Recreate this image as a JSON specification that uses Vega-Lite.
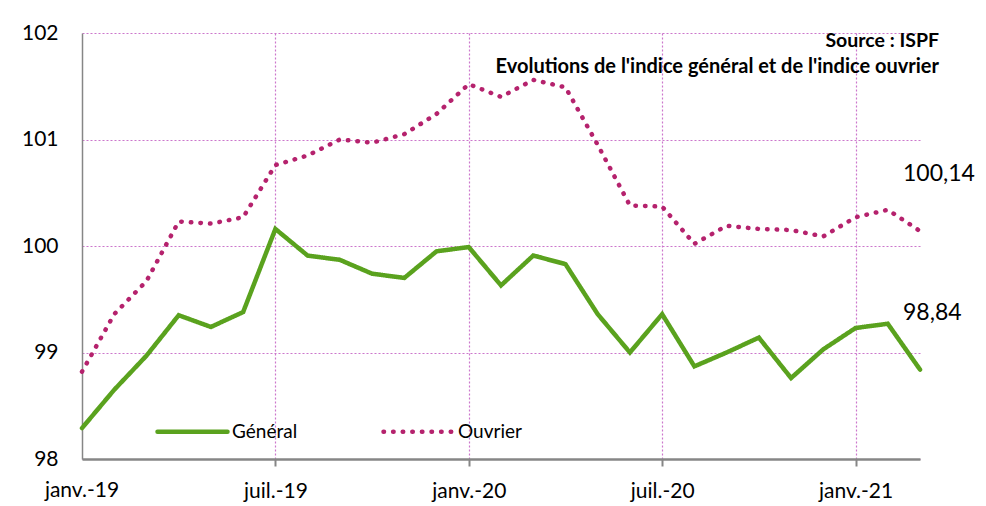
{
  "$schema": "https://vega.github.io/schema/vega-lite/v6.json",
  "width": 838,
  "height": 426,
  "autosize": {"type": "none"},
  "padding": {"left": 82, "top": 33, "right": 66, "bottom": 47},
  "title": {
    "text": "Source : ISPF",
    "subtitle": "Evolutions de l'indice général et de l'indice ouvrier",
    "anchor": "end",
    "frame": "group",
    "orient": "top",
    "dx": 19,
    "offset": -56,
    "font": "Lato",
    "fontSize": 19.5,
    "fontWeight": "bold",
    "color": "#000000",
    "subtitleFont": "Lato",
    "subtitleFontSize": 20,
    "subtitleFontWeight": "bold",
    "subtitleColor": "#000000",
    "subtitlePadding": 6
  },
  "data": {
    "values": [
      {"mois": "janv.-19", "serie": "Général", "valeur": 98.29},
      {"mois": "févr.-19", "serie": "Général", "valeur": 98.65},
      {"mois": "mars-19", "serie": "Général", "valeur": 98.97},
      {"mois": "avr.-19", "serie": "Général", "valeur": 99.35},
      {"mois": "mai-19", "serie": "Général", "valeur": 99.24},
      {"mois": "juin-19", "serie": "Général", "valeur": 99.38},
      {"mois": "juil.-19", "serie": "Général", "valeur": 100.16},
      {"mois": "août-19", "serie": "Général", "valeur": 99.91},
      {"mois": "sept.-19", "serie": "Général", "valeur": 99.87},
      {"mois": "oct.-19", "serie": "Général", "valeur": 99.74},
      {"mois": "nov.-19", "serie": "Général", "valeur": 99.70},
      {"mois": "déc.-19", "serie": "Général", "valeur": 99.95},
      {"mois": "janv.-20", "serie": "Général", "valeur": 99.99},
      {"mois": "févr.-20", "serie": "Général", "valeur": 99.63},
      {"mois": "mars-20", "serie": "Général", "valeur": 99.91},
      {"mois": "avr.-20", "serie": "Général", "valeur": 99.83},
      {"mois": "mai-20", "serie": "Général", "valeur": 99.36},
      {"mois": "juin-20", "serie": "Général", "valeur": 99.00},
      {"mois": "juil.-20", "serie": "Général", "valeur": 99.36},
      {"mois": "août-20", "serie": "Général", "valeur": 98.87},
      {"mois": "sept.-20", "serie": "Général", "valeur": 99.00},
      {"mois": "oct.-20", "serie": "Général", "valeur": 99.14},
      {"mois": "nov.-20", "serie": "Général", "valeur": 98.76},
      {"mois": "déc.-20", "serie": "Général", "valeur": 99.03},
      {"mois": "janv.-21", "serie": "Général", "valeur": 99.23},
      {"mois": "févr.-21", "serie": "Général", "valeur": 99.27},
      {"mois": "mars-21", "serie": "Général", "valeur": 98.84},
      {"mois": "janv.-19", "serie": "Ouvrier", "valeur": 98.82},
      {"mois": "févr.-19", "serie": "Ouvrier", "valeur": 99.36},
      {"mois": "mars-19", "serie": "Ouvrier", "valeur": 99.67},
      {"mois": "avr.-19", "serie": "Ouvrier", "valeur": 100.23},
      {"mois": "mai-19", "serie": "Ouvrier", "valeur": 100.21},
      {"mois": "juin-19", "serie": "Ouvrier", "valeur": 100.27},
      {"mois": "juil.-19", "serie": "Ouvrier", "valeur": 100.76},
      {"mois": "août-19", "serie": "Ouvrier", "valeur": 100.85},
      {"mois": "sept.-19", "serie": "Ouvrier", "valeur": 101.00},
      {"mois": "oct.-19", "serie": "Ouvrier", "valeur": 100.97},
      {"mois": "nov.-19", "serie": "Ouvrier", "valeur": 101.05},
      {"mois": "déc.-19", "serie": "Ouvrier", "valeur": 101.24},
      {"mois": "janv.-20", "serie": "Ouvrier", "valeur": 101.52},
      {"mois": "févr.-20", "serie": "Ouvrier", "valeur": 101.40},
      {"mois": "mars-20", "serie": "Ouvrier", "valeur": 101.56},
      {"mois": "avr.-20", "serie": "Ouvrier", "valeur": 101.49},
      {"mois": "mai-20", "serie": "Ouvrier", "valeur": 100.95},
      {"mois": "juin-20", "serie": "Ouvrier", "valeur": 100.38},
      {"mois": "juil.-20", "serie": "Ouvrier", "valeur": 100.37},
      {"mois": "août-20", "serie": "Ouvrier", "valeur": 100.02},
      {"mois": "sept.-20", "serie": "Ouvrier", "valeur": 100.19},
      {"mois": "oct.-20", "serie": "Ouvrier", "valeur": 100.16},
      {"mois": "nov.-20", "serie": "Ouvrier", "valeur": 100.15},
      {"mois": "déc.-20", "serie": "Ouvrier", "valeur": 100.09},
      {"mois": "janv.-21", "serie": "Ouvrier", "valeur": 100.27},
      {"mois": "févr.-21", "serie": "Ouvrier", "valeur": 100.34},
      {"mois": "mars-21", "serie": "Ouvrier", "valeur": 100.14}
    ]
  },
  "encoding": {
    "x": {
      "field": "mois",
      "type": "ordinal",
      "sort": null,
      "scale": {
        "type": "point",
        "padding": 0,
        "domain": ["janv.-19", "févr.-19", "mars-19", "avr.-19", "mai-19", "juin-19", "juil.-19", "août-19", "sept.-19", "oct.-19", "nov.-19", "déc.-19", "janv.-20", "févr.-20", "mars-20", "avr.-20", "mai-20", "juin-20", "juil.-20", "août-20", "sept.-20", "oct.-20", "nov.-20", "déc.-20", "janv.-21", "févr.-21", "mars-21"]
      },
      "axis": {
        "title": null,
        "values": ["janv.-19", "juil.-19", "janv.-20", "juil.-20", "janv.-21"],
        "labelAngle": 0,
        "labelOverlap": false,
        "labelFont": "Lato",
        "labelFontSize": 21,
        "labelColor": "#000000",
        "labelPadding": 14,
        "domainColor": "#868686",
        "domainWidth": 2.5,
        "tickColor": "#868686",
        "tickWidth": 2,
        "tickSize": 7,
        "grid": true,
        "gridColor": "#CC77CC",
        "gridDash": [2, 2],
        "gridWidth": 1.2
      }
    },
    "y": {
      "field": "valeur",
      "type": "quantitative",
      "scale": {"domain": [98, 102], "nice": false, "zero": false},
      "axis": {
        "title": null,
        "values": [98, 99, 100, 101, 102],
        "labelFont": "Lato",
        "labelFontSize": 21,
        "labelColor": "#000000",
        "labelPadding": 24,
        "ticks": false,
        "tickSize": 0,
        "domainColor": "#868686",
        "domainWidth": 1.5,
        "grid": true,
        "gridColor": "#CC77CC",
        "gridDash": [2, 2],
        "gridWidth": 1.2
      }
    }
  },
  "layer": [
    {
      "mark": {"type": "line", "strokeWidth": 4.5, "strokeCap": "round", "strokeJoin": "miter"},
      "encoding": {
        "color": {
          "field": "serie",
          "type": "nominal",
          "scale": {"domain": ["Général", "Ouvrier"], "range": ["#5AA21E", "#B5226D"]},
          "legend": {
            "title": null,
            "orient": "none",
            "direction": "horizontal",
            "legendX": 73,
            "legendY": 361,
            "padding": 0,
            "symbolType": "stroke",
            "symbolSize": 4900,
            "symbolStrokeWidth": 4.5,
            "labelFont": "Lato",
            "labelFontSize": 19,
            "labelColor": "#000000",
            "labelOffset": 2,
            "columnPadding": 76,
            "encode": {"symbols": {"update": {"strokeCap": {"value": "round"}}}}
          }
        },
        "strokeDash": {
          "field": "serie",
          "type": "nominal",
          "scale": {"domain": ["Général", "Ouvrier"], "range": [[1, 0], [0.5, 9.1]]},
          "legend": null
        }
      }
    },
    {
      "transform": [{"filter": "datum.mois === 'mars-21'"}],
      "mark": {"type": "text", "font": "Lato", "fontSize": 23, "align": "left", "baseline": "middle", "dx": -17, "dy": -57, "color": "#000000"},
      "encoding": {
        "text": {"field": "valeur", "type": "quantitative", "format": ".2f"}
      }
    },
    {
      "transform": [{"filter": "datum.mois === 'janv.-19' && datum.serie === 'Général'"}],
      "mark": {"type": "text", "font": "Lato", "fontSize": 21, "align": "center", "baseline": "top", "dy": 21, "color": "#000000"},
      "encoding": {
        "y": {"datum": 98},
        "text": {"field": "mois", "type": "nominal"}
      }
    }
  ],
  "config": {
    "view": {"stroke": null},
    "locale": {
      "number": {"decimal": ",", "thousands": " ", "grouping": [3], "currency": ["", " €"]}
    }
  }
}
